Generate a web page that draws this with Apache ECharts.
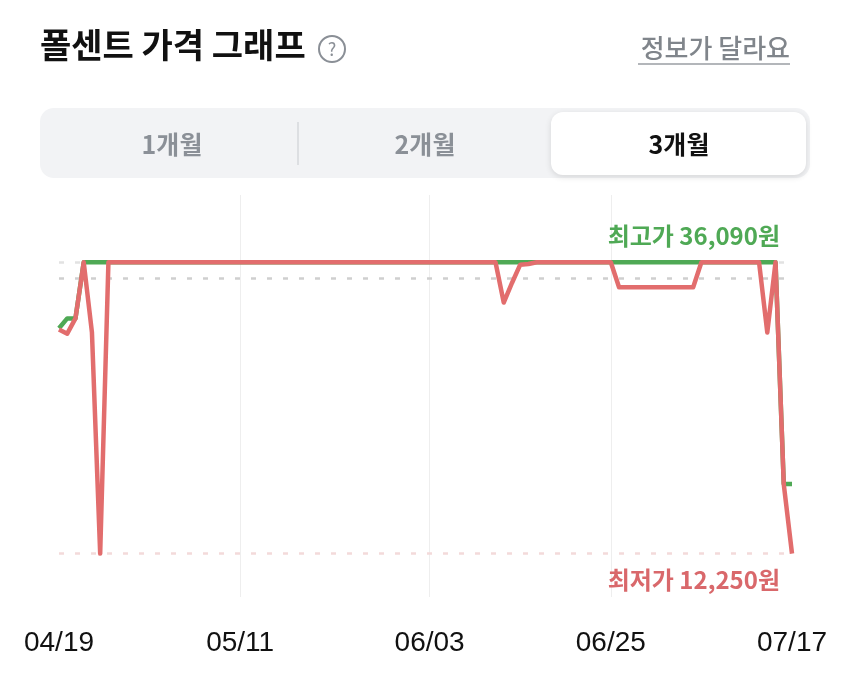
<!DOCTYPE html>
<html>
<head>
<meta charset="utf-8">
<script src="https://cdn.jsdelivr.net/npm/echarts@6/dist/echarts.min.js"></script>
<style>
  html, body { margin: 0; padding: 0; background: #fff; }
  #chart { width: 850px; height: 684px; }
</style>
</head>
<body>
<div id="chart"></div>
<script>
// 90 days, 04/19 ~ 07/17
const startDate = new Date(2024, 3, 19);
const dayCount = 90;
const tickLabels = ['04/19', '05/11', '06/03', '06/25', '07/17'];
const tabLabels = ['1개월', '2개월', '3개월'];

// 최고가 (green)
const highPrices = [
  30700, 31500, 31500, 36090, 36090, 36090, 36090, 36090, 36090, 36090,
  36090, 36090, 36090, 36090, 36090, 36090, 36090, 36090, 36090, 36090,
  36090, 36090, 36090, 36090, 36090, 36090, 36090, 36090, 36090, 36090,
  36090, 36090, 36090, 36090, 36090, 36090, 36090, 36090, 36090, 36090,
  36090, 36090, 36090, 36090, 36090, 36090, 36090, 36090, 36090, 36090,
  36090, 36090, 36090, 36090, 36090, 36090, 36090, 36090, 36090, 36090,
  36090, 36090, 36090, 36090, 36090, 36090, 36090, 36090, 36090, 36090,
  36090, 36090, 36090, 36090, 36090, 36090, 36090, 36090, 36090, 36090,
  36090, 36090, 36090, 36090, 36090, 36090, 36090, 36090, 17950, 17950
];

// 최저가 (red)
const lowPrices = [
  30600, 30250, 31500, 36090, 30340, 12250, 36090, 36090, 36090, 36090,
  36090, 36090, 36090, 36090, 36090, 36090, 36090, 36090, 36090, 36090,
  36090, 36090, 36090, 36090, 36090, 36090, 36090, 36090, 36090, 36090,
  36090, 36090, 36090, 36090, 36090, 36090, 36090, 36090, 36090, 36090,
  36090, 36090, 36090, 36090, 36090, 36090, 36090, 36090, 36090, 36090,
  36090, 36090, 36090, 36090, 32800, 34400, 35900, 35950, 36090, 36090,
  36090, 36090, 36090, 36090, 36090, 36090, 36090, 36090, 34050, 34050,
  34050, 34050, 34050, 34050, 34050, 34050, 34050, 34050, 36090, 36090,
  36090, 36090, 36090, 36090, 36090, 36090, 30340, 36090, 17920, 12250
];

const pad = n => (n < 10 ? '0' : '') + n;
const dates = [];
for (let i = 0; i < dayCount; i++) {
  const d = new Date(startDate.getTime() + i * 86400000);
  dates.push(pad(d.getMonth() + 1) + '/' + pad(d.getDate()));
}
const tickIdx = tickLabels.map(t => dates.indexOf(t));
const maxPrice = Math.max(...highPrices);
const minPrice = Math.min(...lowPrices);

const GREEN = '#4fa955';
const RED = '#e26d6d';
const KR = '"Noto Sans CJK KR", "Noto Sans", sans-serif';
const fmt = v => v.toLocaleString('en-US');
const dash = [5, 11];

const chart = echarts.init(document.getElementById('chart'), null, { renderer: 'canvas' });

chart.setOption({
  animation: false,
  backgroundColor: '#fff',
  grid: { left: 59, right: 58, top: 195, bottom: 87 },
  xAxis: {
    type: 'category',
    data: dates,
    boundaryGap: false,
    axisLine: { show: false },
    axisTick: { show: false },
    axisLabel: {
      interval: (i) => tickIdx.indexOf(i) >= 0,
      margin: 32,
      color: '#111',
      fontSize: 28,
      fontFamily: '"Liberation Sans", Arial, sans-serif',
      showMinLabel: true,
      showMaxLabel: true
    },
    splitLine: {
      show: true,
      interval: (i) => i === tickIdx[1] || i === tickIdx[2] || i === tickIdx[3],
      lineStyle: { color: '#eeeeee', width: 1 }
    }
  },
  yAxis: {
    type: 'value',
    min: 8700,
    max: 41600,
    show: false,
    splitLine: { show: false }
  },
  series: [
    {
      // reference lines only, drawn under the price lines
      name: 'ref',
      type: 'line',
      data: lowPrices,
      z: 1,
      showSymbol: false,
      symbol: 'none',
      lineStyle: { opacity: 0 },
      markLine: {
        z: 1,
        silent: true,
        symbol: 'none',
        data: [
          {
            yAxis: maxPrice,
            lineStyle: { color: '#e2e2e2', type: dash, width: 2.5 },
            label: {
              position: 'insideEndTop',
              distance: [12, 14],
              formatter: '최고가 ' + fmt(maxPrice) + '원',
              color: GREEN,
              fontSize: 24,
              fontWeight: 'bold',
              fontFamily: KR
            }
          },
          {
            type: 'average',
            lineStyle: { color: '#cfcfcf', type: dash, width: 2.5 },
            label: { show: false }
          },
          {
            yAxis: minPrice,
            lineStyle: { color: '#f3dada', type: dash, width: 2.5 },
            label: {
              position: 'insideEndBottom',
              distance: [12, 14],
              formatter: '최저가 ' + fmt(minPrice) + '원',
              color: '#d9686b',
              fontSize: 24,
              fontWeight: 'bold',
              fontFamily: KR
            }
          }
        ]
      }
    },
    {
      name: '최고가',
      type: 'line',
      data: highPrices,
      z: 6,
      showSymbol: false,
      symbol: 'none',
      lineStyle: { color: GREEN, width: 4.5, join: 'round' }
    },
    {
      name: '최저가',
      type: 'line',
      data: lowPrices,
      z: 7,
      showSymbol: false,
      symbol: 'none',
      lineStyle: { color: RED, width: 4.5, join: 'round' }
    }
  ],
  graphic: [
    {
      type: 'text', left: 40, top: 28,
      style: { text: '폴센트 가격 그래프', fill: '#111', font: 'bold 34px ' + KR }
    },
    {
      type: 'circle', shape: { cx: 332, cy: 49, r: 13 },
      style: { fill: 'none', stroke: '#8a8f96', lineWidth: 2 }
    },
    {
      type: 'text', x: 332, y: 49,
      style: { text: '?', fill: '#8a8f96', font: '18px ' + KR, align: 'center', verticalAlign: 'middle' }
    },
    {
      type: 'text', x: 790, y: 48,
      style: { text: '정보가 달라요', fill: '#80858b', font: '500 26px ' + KR, align: 'right', verticalAlign: 'middle' }
    },
    {
      type: 'line', shape: { x1: 638, y1: 64, x2: 790, y2: 64 },
      style: { stroke: '#9a9ea3', lineWidth: 1.5 }
    },
    {
      type: 'rect', shape: { x: 40, y: 108, width: 770, height: 70, r: 14 },
      style: { fill: '#f2f3f5' }
    },
    {
      type: 'line', shape: { x1: 298, y1: 122, x2: 298, y2: 165 },
      style: { stroke: '#d6d8db', lineWidth: 1.5 }
    },
    {
      type: 'rect', shape: { x: 551, y: 112, width: 255, height: 63, r: 12 },
      style: { fill: '#fff', shadowBlur: 6, shadowColor: 'rgba(0,0,0,0.12)', shadowOffsetY: 2 }
    },
    {
      type: 'text', x: 172, y: 144,
      style: { text: tabLabels[0], fill: '#8b9097', font: 'bold 25px ' + KR, align: 'center', verticalAlign: 'middle' }
    },
    {
      type: 'text', x: 425, y: 144,
      style: { text: tabLabels[1], fill: '#8b9097', font: 'bold 25px ' + KR, align: 'center', verticalAlign: 'middle' }
    },
    {
      type: 'text', x: 679, y: 144,
      style: { text: tabLabels[2], fill: '#111', font: 'bold 25px ' + KR, align: 'center', verticalAlign: 'middle' }
    }
  ]
});
</script>
</body>
</html>
